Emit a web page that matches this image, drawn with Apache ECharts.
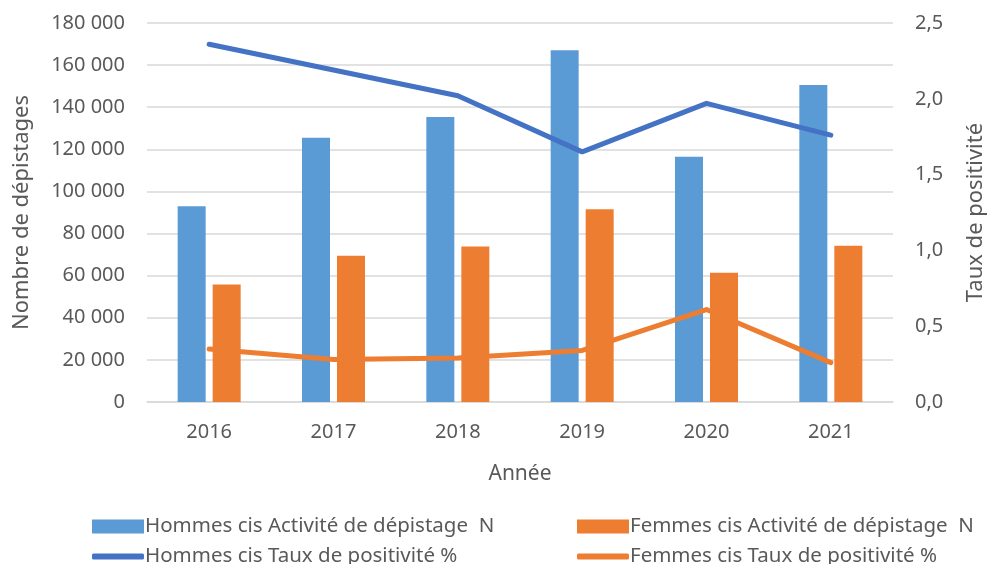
<!DOCTYPE html>
<html>
<head>
<meta charset="utf-8">
<script src="https://cdn.jsdelivr.net/npm/echarts@6/dist/echarts.min.js"></script>
<style>
  html, body { margin: 0; padding: 0; background: #fff; }
  #chart { width: 995px; height: 564px; }
</style>
</head>
<body>
<div id="chart"></div>
<script>
const years = ['2016', '2017', '2018', '2019', '2020', '2021'];
const hommesDepistage = [93000, 125500, 135300, 167000, 116500, 150600];
const femmesDepistage = [55800, 69400, 73900, 91600, 61400, 74200];
const hommesTaux = [2.36, 2.19, 2.02, 1.65, 1.97, 1.76];
const femmesTaux = [0.35, 0.28, 0.29, 0.34, 0.61, 0.26];

const textColor = '#595959';
const font = 'Noto Sans';

const chart = echarts.init(document.getElementById('chart'));

const fmtThousands = v => String(v).replace(/\B(?=(\d{3})+(?!\d))/g, ' ');

// one legend per entry so the 2x2 layout matches
const legendItem = (name, left, top, isLine) => ({
  data: [name],
  left: left, top: top,
  icon: isLine ? 'roundRect' : 'rect',
  itemWidth: 52, itemHeight: isLine ? 6 : 14,
  itemGap: 0,
  padding: 0,
  textStyle: { fontFamily: font, fontSize: 20.5, color: textColor, padding: [0, 0, 0, -4] }
});

const option = {
  textStyle: { fontFamily: font, color: textColor },
  grid: { left: 147, right: 91, top: 23, bottom: 162 },
  legend: [
    legendItem('Hommes cis Activité de dépistage  N', 92, 516, false),
    legendItem('Hommes cis Taux de positivité %', 92, 546, true),
    legendItem('Femmes cis Activité de dépistage  N', 577, 516, false),
    legendItem('Femmes cis Taux de positivité %', 577, 546, true)
  ],
  xAxis: {
    type: 'category',
    data: years,
    name: 'Année',
    nameLocation: 'middle',
    nameGap: 62,
    nameTextStyle: { fontSize: 21, color: textColor },
    axisTick: { show: false },
    axisLine: { lineStyle: { color: '#d9d9d9', width: 1.5 } },
    axisLabel: { fontSize: 20, color: textColor, margin: 20 }
  },
  yAxis: [{
    type: 'value',
    min: 0, max: 180000, interval: 20000,
    name: 'Nombre de dépistages',
    nameLocation: 'middle',
    nameGap: 114,
    nameTextStyle: { fontSize: 22, color: textColor },
    axisLine: { show: false },
    axisTick: { show: false },
    splitLine: { lineStyle: { color: '#d9d9d9', width: 1.5 } },
    axisLabel: { fontSize: 20, color: textColor, margin: 22, formatter: fmtThousands }
  }, {
    type: 'value',
    min: 0, max: 2.5, interval: 0.5,
    name: 'Taux de positivité',
    nameLocation: 'middle',
    nameGap: 72,
    nameTextStyle: { fontSize: 22, color: textColor },
    axisLine: { show: false },
    axisTick: { show: false },
    splitLine: { show: false },
    axisLabel: { fontSize: 20, color: textColor, margin: 22,
      formatter: v => v.toFixed(1).replace('.', ',') }
  }],
  series: [{
    name: 'Hommes cis Activité de dépistage  N',
    type: 'bar',
    data: hommesDepistage,
    barWidth: 28,
    barGap: '25%',
    itemStyle: { color: '#5b9bd5' }
  }, {
    name: 'Femmes cis Activité de dépistage  N',
    type: 'bar',
    data: femmesDepistage,
    barWidth: 28,
    barGap: '25%',
    itemStyle: { color: '#ed7d31' }
  }, {
    name: 'Hommes cis Taux de positivité %',
    type: 'line',
    yAxisIndex: 1,
    data: hommesTaux,
    symbol: 'none',
    lineStyle: { color: '#4472c4', width: 5, cap: 'round', join: 'round' },
    itemStyle: { color: '#4472c4' }
  }, {
    name: 'Femmes cis Taux de positivité %',
    type: 'line',
    yAxisIndex: 1,
    data: femmesTaux,
    symbol: 'none',
    lineStyle: { color: '#ed7d31', width: 5, cap: 'round', join: 'round' },
    itemStyle: { color: '#ed7d31' }
  }]
};

chart.setOption(option);
</script>
</body>
</html>
